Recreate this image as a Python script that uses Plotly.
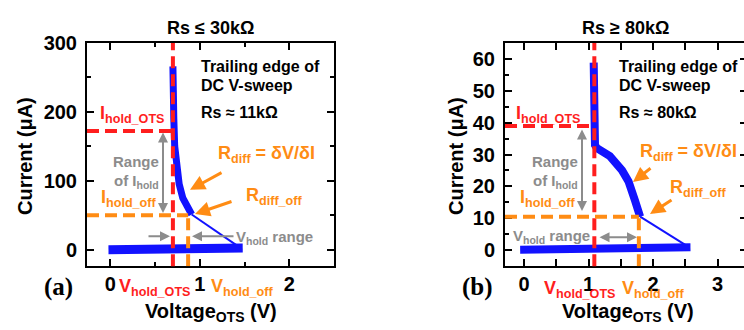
import plotly.graph_objects as go

W, H = 744, 330
FONT = "Liberation Sans"
RED = "#FF1E1E"
ORANGE = "#FF8C14"
GREY = "#8C8C8C"
BLUE = "#1212FF"

# ---------------- data (a) Rs <= 30kOhm ----------------
a_on_v = [0.70, 0.70, 0.71, 0.72, 0.74, 0.77, 0.81, 0.86, 0.91]
a_on_i = [266, 230, 190, 150, 120, 95, 75, 60, 51]
a_tail_v = [0.91, 1.45]
a_tail_i = [51, 3]
a_base_v = [-0.02, 0.5, 1.0, 1.48]
a_base_i = [0, 0.5, 1.2, 2.5]
a_v_ots, a_v_off = 0.70, 0.87
a_i_ots, a_i_off = 172, 50

# ---------------- data (b) Rs >= 80kOhm ----------------
b_on_v = [1.08, 1.09, 1.08, 1.09, 1.10, 1.13, 1.33, 1.52, 1.62, 1.72, 1.80]
b_on_i = [59, 52, 45, 38, 33, 32, 29.5, 25, 21.5, 15.5, 10.4]
b_tail_v = [1.80, 2.50]
b_tail_i = [10.4, 1.5]
b_base_v = [-0.06, 1.0, 2.0, 2.58]
b_base_i = [0, 0.2, 0.5, 0.8]
b_v_ots, b_v_off = 1.09, 1.78
b_i_ots, b_i_off = 39, 10.4

a_xrange = [-0.26, 2.5]
a_yrange = [-24, 300]
b_xrange = [-0.295, 3.41]
b_yrange = [-5.2, 65.2]


def px(x):
    return x / W


def py(y):
    return 1 - y / H


fig = go.Figure()

def blue(v, i, w, xa, ya):
    fig.add_trace(go.Scatter(x=v, y=i, mode="lines", xaxis=xa, yaxis=ya,
                             line=dict(color=BLUE, width=w), showlegend=False,
                             hoverinfo="skip"))

blue(a_base_v, a_base_i, 9, "x", "y")
blue(a_tail_v, a_tail_i, 2, "x", "y")
blue(a_on_v, a_on_i, 7, "x", "y")
blue(b_base_v, b_base_i, 8, "x2", "y2")
blue(b_tail_v, b_tail_i, 2, "x2", "y2")
blue(b_on_v, b_on_i, 8, "x2", "y2")
# invisible trace so that the right-side tick axis of panel (b) is drawn
fig.add_trace(go.Scatter(x=[b_xrange[0]], y=[b_yrange[0]], xaxis="x2", yaxis="y3",
                         mode="markers", marker=dict(opacity=0), showlegend=False,
                         hoverinfo="skip"))

DASH = "12px,6px"

def ref_lines(xr, xd, yd, v_ots, v_off, i_ots, i_off):
    rng = a_xrange if xr == "x" else b_xrange
    yr = a_yrange if yd == "y" else b_yrange
    fig.add_shape(type="line", xref=xr, yref=yd + " domain", x0=v_ots, x1=v_ots,
                  y0=0, y1=1, line=dict(color=RED, width=4, dash=DASH), layer="above")
    fig.add_shape(type="line", xref=xr, yref=yd, x0=rng[0], x1=v_ots,
                  y0=i_ots, y1=i_ots, line=dict(color=RED, width=4, dash=DASH), layer="above")
    fig.add_shape(type="line", xref=xr, yref=yd, x0=v_off, x1=v_off,
                  y0=yr[0], y1=i_off, line=dict(color=ORANGE, width=4, dash=DASH), layer="above")
    fig.add_shape(type="line", xref=xr, yref=yd, x0=rng[0], x1=v_off,
                  y0=i_off, y1=i_off, line=dict(color=ORANGE, width=4, dash=DASH), layer="above")

ref_lines("x", "x", "y", a_v_ots, a_v_off, a_i_ots, a_i_off)
ref_lines("x2", "x2", "y2", b_v_ots, b_v_off, b_i_ots, b_i_off)

tickfont = dict(family=FONT, size=20, color="black", weight="bold")
common = dict(showgrid=False, zeroline=False, showline=True, linecolor="black",
              linewidth=2, ticks="inside", ticklen=7, tickwidth=2, tickcolor="black",
              tickfont=tickfont)

ydom = [py(264), py(33)]
fig.update_layout(
    width=W, height=H, margin=dict(l=0, r=0, t=0, b=0),
    paper_bgcolor="white", plot_bgcolor="white",
    xaxis=dict(domain=[px(87), px(334)], range=a_xrange, dtick=1, tick0=0,
               mirror="allticks", anchor="y", ticklabelstandoff=-1,
               minor=dict(dtick=0.5, ticks="inside", ticklen=4, tickwidth=2, tickcolor="black"),
               **common),
    yaxis=dict(domain=ydom, range=a_yrange, dtick=100, tick0=0, mirror="allticks",
               anchor="x", ticklabelstandoff=4,
               minor=dict(dtick=50, ticks="inside", ticklen=4, tickwidth=2, tickcolor="black"),
               **common),
    xaxis2=dict(domain=[px(505), 1.0], range=b_xrange, dtick=1, tick0=0,
                mirror="allticks", anchor="y2", ticklabelstandoff=-1,
                minor=dict(dtick=0.5, ticks="inside", ticklen=4, tickwidth=2, tickcolor="black"),
                **common),
    yaxis2=dict(domain=ydom, range=b_yrange, dtick=10, tick0=0, mirror=False,
                anchor="x2", ticklabelstandoff=4,
                minor=dict(dtick=5, ticks="inside", ticklen=4, tickwidth=2, tickcolor="black"),
                **common),
    yaxis3=dict(domain=ydom, range=b_yrange, dtick=10, tick0=0, overlaying="y2",
                side="right", anchor="x2", showline=False, showgrid=False, zeroline=False,
                ticks="inside", ticklen=4, tickwidth=2, tickcolor="black",
                showticklabels=False),
)


def txt(x, y, text, size, color="black", xanchor="center", family=FONT, angle=0, bold=True):
    fig.add_annotation(x=px(x), y=py(y), xref="paper", yref="paper", text=text,
                       showarrow=False, xanchor=xanchor, yanchor="middle",
                       textangle=angle,
                       font=dict(family=family, size=size, color=color,
                                 weight="bold" if bold else "normal"))


def arrow(x_tip, y_tip, x_tail, y_tail, color, width, both=False, head=2, size=1.0):
    fig.add_annotation(x=px(x_tip), y=py(y_tip), xref="paper", yref="paper",
                       ax=x_tail - x_tip, ay=y_tail - y_tip, text="", showarrow=True,
                       arrowcolor=color, arrowwidth=width, arrowhead=head,
                       arrowsize=size, startarrowhead=head, startarrowsize=size,
                       arrowside="end+start" if both else "end")

# ---- panel (a) texts ----
txt(210, 18, "Rs ≤ 30kΩ", 18)
txt(199, 57, "Trailing edge of", 16, xanchor="left")
txt(199, 77, "DC V-sweep", 16, xanchor="left")
txt(199, 105, "Rs ≈ 11kΩ", 16, xanchor="left")
txt(132, 107, "I<sub>hold_OTS</sub>", 18, RED)
txt(136, 156, "Range", 15, GREY)
txt(136, 176, "of I<sub>hold</sub>", 15, GREY)
txt(128, 194, "I<sub>hold_off</sub>", 18, ORANGE)
txt(266, 148, "R<sub>diff</sub> = δV/δI", 18, ORANGE)
txt(274, 192, "R<sub>diff_off</sub>", 18, ORANGE)
txt(274, 234, "V<sub>hold</sub> range", 15, GREY)
txt(58, 286, "(a)", 25, family="Liberation Serif")
txt(155, 286, "V<sub>hold_OTS</sub>", 18, RED)
txt(242, 286, "V<sub>hold_off</sub>", 18, ORANGE)
txt(211, 312, "Voltage<sub>OTS</sub> (V)", 20)
txt(25, 150, "Current (μA)", 20, angle=-90)

arrow(163, 209, 163, 127, GREY, 2, both=True)
arrow(170, 233, 147, 233, GREY, 2)
arrow(192, 233, 235, 233, GREY, 2)
arrow(190, 185, 223, 167, ORANGE, 3)
arrow(195, 210, 233, 197, ORANGE, 3)

# ---- panel (b) texts ----
txt(625, 18, "Rs ≥ 80kΩ", 18)
txt(617, 57, "Trailing edge of", 16, xanchor="left")
txt(617, 77, "DC V-sweep", 16, xanchor="left")
txt(617, 105, "Rs ≈ 80kΩ", 16, xanchor="left")
txt(548, 107, "I<sub>hold_OTS</sub>", 18, RED)
txt(555, 156, "Range", 15, GREY)
txt(555, 176, "of I<sub>hold</sub>", 15, GREY)
txt(547, 194, "I<sub>hold_off</sub>", 18, ORANGE)
txt(688, 146, "R<sub>diff</sub> = δV/δI", 18, ORANGE)
txt(698, 184, "R<sub>diff_off</sub>", 18, ORANGE)
txt(551, 233, "V<sub>hold</sub> range", 15, GREY)
txt(477, 286, "(b)", 25, family="Liberation Serif")
txt(580, 288, "V<sub>hold_OTS</sub>", 18, RED)
txt(653, 288, "V<sub>hold_off</sub>", 18, ORANGE)
txt(628, 312, "Voltage<sub>OTS</sub> (V)", 20)
txt(456, 150, "Current (μA)", 20, angle=-90)

arrow(582, 207, 582, 124, GREY, 2, both=True)
arrow(637, 234, 598, 234, GREY, 2, both=True)
arrow(633, 177, 652, 162, ORANGE, 3)
arrow(650, 210, 673, 195, ORANGE, 3)

fig.write_html("out.html")
